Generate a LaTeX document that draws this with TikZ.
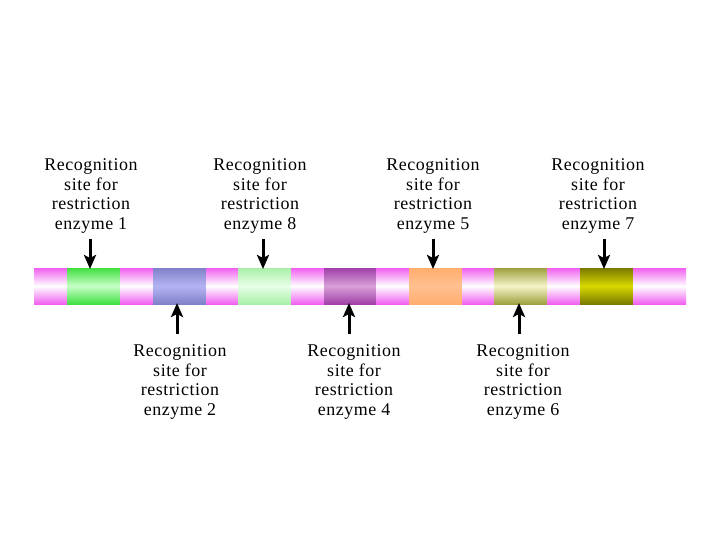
\documentclass[tikz,border=0pt]{standalone}
\usepackage{fontspec}
\setmainfont{Liberation Serif}[LetterSpace=3]
\usetikzlibrary{arrows.meta}
\definecolor{mpink}{HTML}{F060F0}
\definecolor{cgreen}{HTML}{40E040}
\definecolor{cgreenm}{HTML}{C8FFC8}
\definecolor{cblue}{HTML}{8080C8}
\definecolor{cbluem}{HTML}{B4B4F4}
\definecolor{clgreen}{HTML}{A8F0A8}
\definecolor{clgreenm}{HTML}{E8FFE8}
\definecolor{cmag}{HTML}{A040A8}
\definecolor{cmagm}{HTML}{D8A0D8}
\definecolor{corange}{HTML}{FFAE6E}
\definecolor{corangem}{HTML}{FFC090}
\definecolor{colive}{HTML}{A0A040}
\definecolor{colivem}{HTML}{F4F4C8}
\definecolor{cdark}{HTML}{7A7A00}
\definecolor{cdarkm}{HTML}{D8D800}
\tikzset{
  lab/.style={align=center, inner sep=0pt, font=\fontsize{18}{20}\selectfont},
  arr/.style={line width=3bp, -{Stealth[length=14bp,width=12bp,inset=3bp]}},
}
\begin{document}
\begin{tikzpicture}[x=1bp,y=-1bp]
\useasboundingbox (0,0) rectangle (720,540);
\fill[white] (0,0) rectangle (720,540);
\foreach \a/\b/\c/\m in {34/67/mpink/white, 67/120/cgreen/cgreenm, 120/153/mpink/white,
  153/206/cblue/cbluem, 206/238/mpink/white, 238/291/clgreen/clgreenm, 291/324/mpink/white,
  324/376/cmag/cmagm, 376/409/mpink/white, 409/462/corange/corangem, 462/494/mpink/white,
  494/547/colive/colivem, 547/580/mpink/white, 580/633/cdark/cdarkm, 633/686/mpink/white}
  \shade[top color=\c, bottom color=\c, middle color=\m] (\a,268) rectangle (\b,304);
\coordinate (t1) at (90,269);
\coordinate (t8) at (263,269);
\coordinate (t5) at (433,269);
\coordinate (t7) at (604,269);
\coordinate (b2) at (177,303);
\coordinate (b4) at (349,303);
\coordinate (b6) at (519,303);
\node[lab] (l1) at (91,196) {Recognition\\site for\\restriction\\enzyme 1};
\node[lab] (l8) at (260,196) {Recognition\\site for\\restriction\\enzyme 8};
\node[lab] (l5) at (433,196) {Recognition\\site for\\restriction\\enzyme 5};
\node[lab] (l7) at (598,196) {Recognition\\site for\\restriction\\enzyme 7};
\node[lab] (l2) at (180,382) {Recognition\\site for\\restriction\\enzyme 2};
\node[lab] (l4) at (354,382) {Recognition\\site for\\restriction\\enzyme 4};
\node[lab] (l6) at (523,382) {Recognition\\site for\\restriction\\enzyme 6};
\draw[arr] (t1 |- 0,239) -- (t1);
\draw[arr] (t8 |- 0,239) -- (t8);
\draw[arr] (t5 |- 0,239) -- (t5);
\draw[arr] (t7 |- 0,239) -- (t7);
\draw[arr] (b2 |- 0,334) -- (b2);
\draw[arr] (b4 |- 0,334) -- (b4);
\draw[arr] (b6 |- 0,334) -- (b6);
\end{tikzpicture}
\end{document}
